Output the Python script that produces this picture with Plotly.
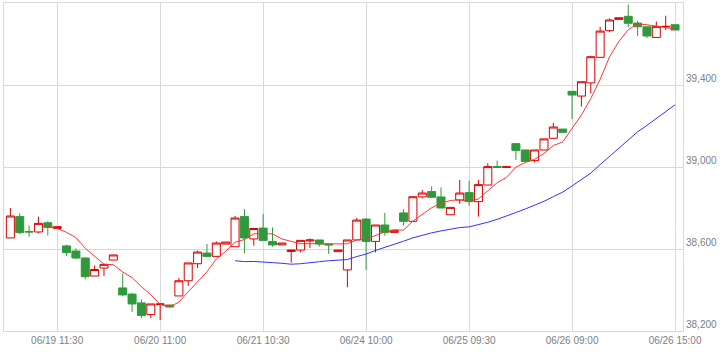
import plotly.graph_objects as go
import pandas as pd

# OHLC values (30-minute bars, index 0..71)
opens = [38654, 38758, 38685, 38683, 38728, 38700, 38615, 38590, 38556, 38468,
         38507, 38546, 38410, 38380, 38337, 38280, 38329, 38327, 38371, 38445,
         38528, 38580, 38564, 38624, 38611, 38758, 38649, 38702, 38636, 38620,
         38588, 38595, 38639, 38644, 38624, 38587, 38498, 38644, 38746, 38637,
         38717, 38681, 38776, 38735, 38854, 38880, 38854, 38767, 38839, 38875,
         38831, 38912, 39002, 38998, 39114, 39083, 39031, 39083, 39140, 39185,
         39369, 39346, 39410, 39535, 39665, 39720, 39735, 39702, 39684, 39632,
         39684, 39694]
highs = [38800, 38774, 38715, 38758, 38735, 38709, 38621, 38603, 38559, 38520,
         38525, 38571, 38481, 38387, 38354, 38332, 38333, 38327, 38459, 38532,
         38592, 38624, 38637, 38634, 38762, 38795, 38701, 38771, 38705, 38629,
         38595, 38644, 38652, 38644, 38624, 38595, 38644, 38751, 38750, 38717,
         38776, 38691, 38795, 38855, 38888, 38905, 38900, 38803, 38937, 38933,
         38937, 39018, 39031, 39001, 39114, 39083, 39083, 39137, 39215, 39185,
         39370, 39416, 39543, 39684, 39725, 39728, 39792, 39713, 39684, 39710,
         39738, 39694]
lows = [38654, 38673, 38660, 38676, 38666, 38700, 38566, 38549, 38452, 38468,
        38468, 38546, 38369, 38293, 38263, 38263, 38254, 38317, 38371, 38420,
        38507, 38564, 38564, 38624, 38611, 38580, 38616, 38642, 38611, 38620,
        38533, 38583, 38605, 38611, 38576, 38587, 38413, 38644, 38498, 38583,
        38665, 38681, 38715, 38735, 38847, 38852, 38800, 38767, 38820, 38811,
        38758, 38912, 38998, 38998, 39034, 39027, 39022, 39083, 39140, 39169,
        39234, 39295, 39359, 39535, 39657, 39720, 39681, 39639, 39629, 39632,
        39668, 39668]
closes = [38761, 38680, 38683, 38725, 38705, 38709, 38583, 38556, 38465, 38500,
          38525, 38571, 38376, 38332, 38276, 38332, 38332, 38317, 38445, 38532,
          38585, 38564, 38629, 38634, 38751, 38654, 38700, 38642, 38620, 38629,
          38595, 38642, 38644, 38624, 38620, 38595, 38644, 38741, 38637, 38717,
          38681, 38691, 38735, 38855, 38873, 38852, 38800, 38803, 38873, 38831,
          38914, 39002, 38998, 39001, 39081, 39027, 39083, 39137, 39195, 39169,
          39351, 39416, 39538, 39663, 39717, 39728, 39701, 39684, 39639, 39686,
          39686, 39668]

tick_index = [5, 16, 27, 38, 49, 60, 71]
tick_labels = ["06/19 11:30", "06/20 11:00", "06/21 10:30", "06/24 10:00",
               "06/25 09:30", "06/26 09:00", "06/26 15:00"]
y_ticks = [38200, 38600, 39000, 39400]
y_tick_labels = ["38,200", "38,600", "39,000", "39,400"]

idx = list(range(len(closes)))
close_s = pd.Series(closes, dtype=float)
ma_short = close_s.rolling(5).mean()   # moving averages of the read closes
ma_long = close_s.rolling(25).mean()

RED = "#dd0000"
GREEN = "#2f9a3b"
GRID = "#d9d9d9"
FONT = dict(family="Liberation Sans", size=10, color="#7a7f88")

fig = go.Figure()
fig.add_trace(go.Candlestick(
    x=idx, open=opens, high=highs, low=lows, close=closes,
    increasing=dict(line=dict(color=RED, width=1), fillcolor="white"),
    decreasing=dict(line=dict(color=GREEN, width=1), fillcolor=GREEN),
    whiskerwidth=0, showlegend=False, hoverinfo="skip"))
fig.add_trace(go.Scatter(x=idx, y=ma_short, mode="lines",
                         line=dict(color="#ff3333", width=1), showlegend=False,
                         hoverinfo="skip"))
fig.add_trace(go.Scatter(x=idx, y=ma_long, mode="lines",
                         line=dict(color="#3333ff", width=1), showlegend=False,
                         hoverinfo="skip"))

fig.update_layout(
    width=720, height=352,
    margin=dict(l=4, r=37, t=3, b=21, pad=0),
    paper_bgcolor="white", plot_bgcolor="white",
    boxgap=0, boxgroupgap=0.145,
    font=FONT,
    xaxis=dict(range=[-0.68, 71.85], tickmode="array", tickvals=tick_index,
               ticktext=tick_labels, showgrid=True, gridcolor=GRID, gridwidth=1,
               showline=True, linecolor=GRID, linewidth=1, mirror=True,
               zeroline=False, ticks="", rangeslider=dict(visible=False),
               automargin=False, tickfont=FONT),
    yaxis=dict(side="right", range=[38200, 39800], tickmode="array",
               tickvals=y_ticks, ticktext=y_tick_labels, showgrid=True,
               gridcolor=GRID, gridwidth=1, showline=True, linecolor=GRID,
               linewidth=1, mirror=True, zeroline=False, ticks="",
               ticklabelposition="outside top", automargin=False, tickfont=FONT),
)

fig.write_html("out.html")
